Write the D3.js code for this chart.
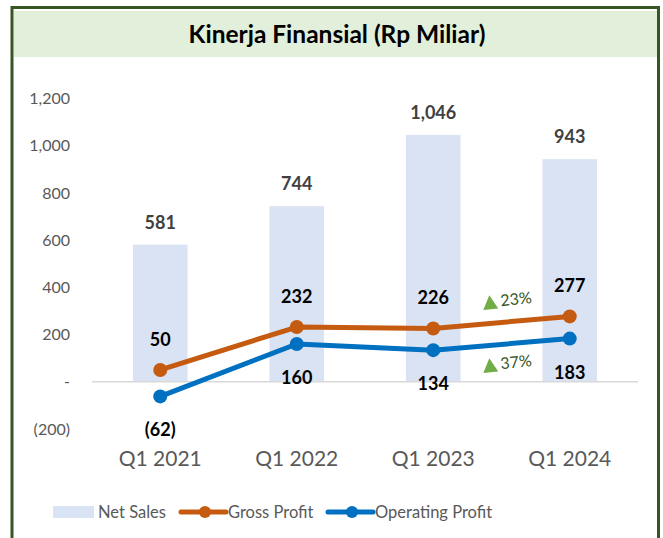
<!DOCTYPE html>
<html>
<head>
	<meta charset="utf-8">
	<script src="https://d3js.org/d3.v7.min.js"></script>
	<title>Kinerja Finansial</title>
	<style>
		body { margin: 0; background: #fff; }
		text { font-family: "Lato", "Open Sans", sans-serif; }
	</style>
</head>
<body>
	<div id="chart"></div>

	<script type="text/javascript">

		// data
		var quarters = ["Q1 2021", "Q1 2022", "Q1 2023", "Q1 2024"];
		var netSales = [581, 744, 1046, 943];
		var grossProfit = [50, 232, 226, 277];
		var operatingProfit = [-62, 160, 134, 183];
		var yTicks = [-200, 0, 200, 400, 600, 800, 1000, 1200];
		var growthNotes = ["23%", "37%"];

		var width = 663, height = 538;

		var svg = d3.select("#chart").append("svg")
			.attr("width", width)
			.attr("height", height);

		// outer frame and title band
		svg.append("rect")
			.attr("x", 14).attr("y", 11)
			.attr("width", 643).attr("height", 46)
			.attr("fill", "#e2efda");

		svg.append("path")
			.attr("d", "M12,540 L12,7.5 L658.5,7.5 L658.5,540")
			.attr("fill", "none")
			.attr("stroke", "#375623")
			.attr("stroke-width", 3);

		svg.append("text")
			.attr("x", 337).attr("y", 43)
			.attr("text-anchor", "middle")
			.attr("font-size", 24.5)
			.attr("font-weight", "bold")
			.attr("fill", "#000")
			.text("Kinerja Finansial (Rp Miliar)");

		var xScale = d3.scaleBand()
			.domain(quarters)
			.range([92, 638])
			.paddingInner(0.6)
			.paddingOuter(0.3);

		var yScale = d3.scaleLinear()
			.domain([-200, 1200])
			.range([429, 98.5]);

		var fmt = function(v){
			if (v === 0) return "-";
			if (v < 0) return "(" + d3.format(",")(-v) + ")";
			return d3.format(",")(v);
		};

		// y axis labels, no line
		var yAxis = d3.axisLeft(yScale).tickValues(yTicks).tickFormat(fmt).tickSize(0).tickPadding(0);
		var gy = svg.append("g").attr("transform", "translate(70,0)").call(yAxis);
		gy.select(".domain").remove();
		gy.selectAll("text")
			.attr("font-family", "Lato, sans-serif")
			.attr("font-size", 16)
			.attr("fill", "#595959");

		// bars
		svg.selectAll(".bar")
			.data(netSales).enter().append("rect")
			.attr("class", "bar")
			.attr("x", function(d, i){ return xScale(quarters[i]); })
			.attr("y", function(d){ return yScale(d); })
			.attr("width", xScale.bandwidth())
			.attr("height", function(d){ return yScale(0) - yScale(d); })
			.attr("fill", "#dae3f3");

		// zero line
		svg.append("line")
			.attr("x1", 92).attr("x2", 638)
			.attr("y1", yScale(0)).attr("y2", yScale(0))
			.attr("stroke", "#d9d9d9")
			.attr("stroke-width", 1.5);

		// x axis labels
		var xAxis = d3.axisBottom(xScale).tickSize(0).tickPadding(0);
		var gx = svg.append("g").attr("transform", "translate(0,459)").call(xAxis);
		gx.select(".domain").remove();
		gx.selectAll("text")
			.attr("font-family", "Lato, sans-serif")
			.attr("font-size", 21)
			.attr("fill", "#595959")
			.attr("dy", "0.32em");

		var cx = function(i){ return xScale(quarters[i]) + xScale.bandwidth() / 2; };

		// net sales labels
		svg.selectAll(".nsLabel")
			.data(netSales).enter().append("text")
			.attr("class", "nsLabel")
			.attr("x", function(d, i){ return cx(i); })
			.attr("y", function(d){ return yScale(d) - 16; })
			.attr("text-anchor", "middle")
			.attr("font-size", 18)
			.attr("font-weight", "bold")
			.attr("fill", "#404040")
			.text(function(d){ return fmt(d); });

		var line = d3.line()
			.x(function(d, i){ return cx(i); })
			.y(function(d){ return yScale(d); });

		var series = [
			{ values: grossProfit, color: "#c55a11" },
			{ values: operatingProfit, color: "#0070c0" }
		];

		series.forEach(function(s){
			svg.append("path")
				.datum(s.values)
				.attr("d", line)
				.attr("fill", "none")
				.attr("stroke", s.color)
				.attr("stroke-width", 5)
				.attr("stroke-linejoin", "round");
			svg.selectAll(null)
				.data(s.values).enter().append("circle")
				.attr("cx", function(d, i){ return cx(i); })
				.attr("cy", function(d){ return yScale(d); })
				.attr("r", 7)
				.attr("fill", s.color);
		});

		// gross profit labels (above)
		svg.selectAll(".gpLabel")
			.data(grossProfit).enter().append("text")
			.attr("class", "gpLabel")
			.attr("x", function(d, i){ return cx(i); })
			.attr("y", function(d){ return yScale(d) - 24; })
			.attr("text-anchor", "middle")
			.attr("font-size", 18)
			.attr("font-weight", "bold")
			.attr("fill", "#000")
			.text(function(d){ return fmt(d); });

		// operating profit labels (below)
		svg.selectAll(".opLabel")
			.data(operatingProfit).enter().append("text")
			.attr("class", "opLabel")
			.attr("x", function(d, i){ return cx(i); })
			.attr("y", function(d){ return yScale(d) + 40; })
			.attr("text-anchor", "middle")
			.attr("font-size", 18)
			.attr("font-weight", "bold")
			.attr("fill", "#000")
			.text(function(d){ return fmt(d); });

		// growth notes between Q1 2023 and Q1 2024
		var noteX = (cx(2) + cx(3)) / 2 - 3;
		var noteY = [yScale(d3.mean([grossProfit[2], grossProfit[3]])) - 21, yScale(d3.mean([operatingProfit[2], operatingProfit[3]])) + 20];
		growthNotes.forEach(function(n, i){
			var g = svg.append("g")
				.attr("transform", "translate(" + noteX + "," + noteY[i] + ") rotate(-6)");
			g.append("path")
				.attr("d", "M-16,7 L-8.5,-7 L-1,7 Z")
				.attr("fill", "#70ad47");
			g.append("text")
				.attr("x", 2).attr("y", 5)
				.attr("font-size", 16)
				.attr("fill", "#375623")
				.text(n);
		});

		// legend
		var legend = svg.append("g").attr("transform", "translate(0,512)");
		legend.append("rect")
			.attr("x", 53).attr("y", -6)
			.attr("width", 41).attr("height", 12)
			.attr("fill", "#dae3f3");
		legend.append("text")
			.attr("x", 98).attr("y", 6)
			.attr("font-size", 16.5).attr("fill", "#595959")
			.text("Net Sales");

		var legendItems = [
			{ name: "Gross Profit", color: "#c55a11", x: 181 },
			{ name: "Operating Profit", color: "#0070c0", x: 328 }
		];
		legendItems.forEach(function(it){
			legend.append("line")
				.attr("x1", it.x).attr("x2", it.x + 45)
				.attr("y1", 0).attr("y2", 0)
				.attr("stroke", it.color)
				.attr("stroke-width", 5)
				.attr("stroke-linecap", "round");
			legend.append("circle")
				.attr("cx", it.x + 24).attr("cy", 0)
				.attr("r", 6).attr("fill", it.color);
			legend.append("text")
				.attr("x", it.x + 47).attr("y", 6)
				.attr("font-size", 16.5).attr("fill", "#595959")
				.text(it.name);
		});

	</script>
</body>
</html>
